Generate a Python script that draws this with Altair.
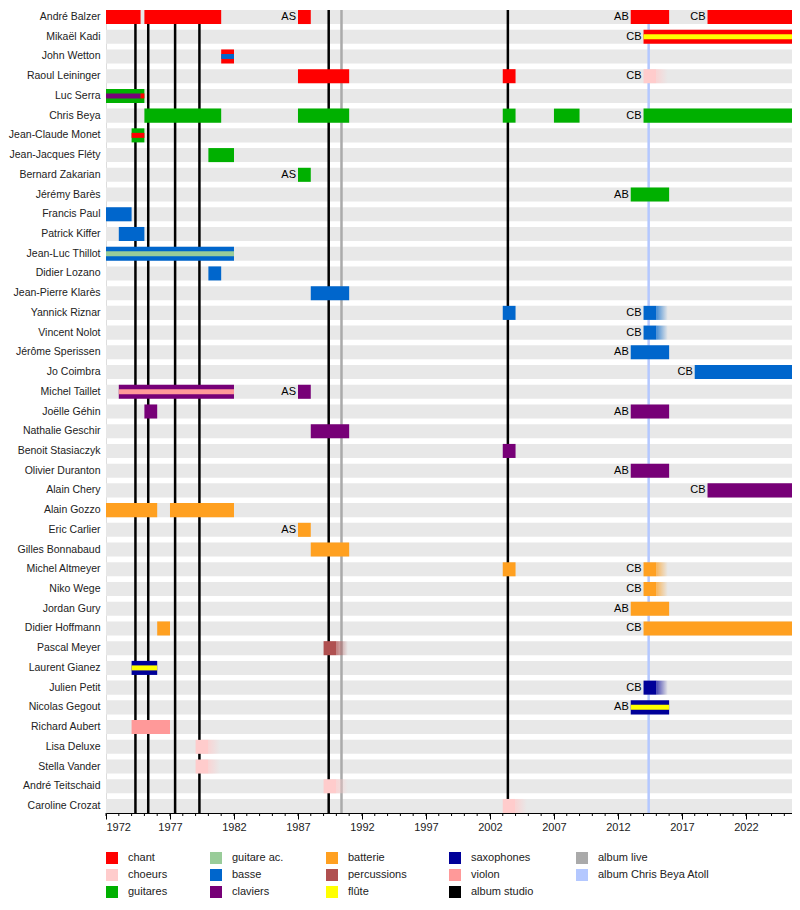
import altair as alt
import pandas as pd

END = 2025.6
H = 803

names = ["André Balzer", "Mikaël Kadi", "John Wetton", "Raoul Leininger", "Luc Serra",
         "Chris Beya", "Jean-Claude Monet", "Jean-Jacques Fléty", "Bernard Zakarian",
         "Jérémy Barès", "Francis Paul", "Patrick Kiffer", "Jean-Luc Thillot",
         "Didier Lozano", "Jean-Pierre Klarès", "Yannick Riznar", "Vincent Nolot",
         "Jérôme Sperissen", "Jo Coimbra", "Michel Taillet", "Joëlle Géhin",
         "Nathalie Geschir", "Benoit Stasiaczyk", "Olivier Duranton", "Alain Chery",
         "Alain Gozzo", "Eric Carlier", "Gilles Bonnabaud", "Michel Altmeyer",
         "Niko Wege", "Jordan Gury", "Didier Hoffmann", "Pascal Meyer",
         "Laurent Gianez", "Julien Petit", "Nicolas Gegout", "Richard Aubert",
         "Lisa Deluxe", "Stella Vander", "André Teitschaid", "Caroline Crozat"]

# main bars
seg_name = ["André Balzer", "André Balzer", "André Balzer", "André Balzer", "André Balzer",
            "Mikaël Kadi", "John Wetton",
            "Raoul Leininger", "Raoul Leininger", "Raoul Leininger",
            "Luc Serra",
            "Chris Beya", "Chris Beya", "Chris Beya", "Chris Beya", "Chris Beya",
            "Jean-Claude Monet", "Jean-Jacques Fléty", "Bernard Zakarian", "Jérémy Barès",
            "Francis Paul", "Patrick Kiffer", "Jean-Luc Thillot", "Didier Lozano",
            "Jean-Pierre Klarès", "Yannick Riznar", "Yannick Riznar", "Vincent Nolot",
            "Jérôme Sperissen", "Jo Coimbra",
            "Michel Taillet", "Michel Taillet", "Joëlle Géhin", "Joëlle Géhin",
            "Nathalie Geschir", "Benoit Stasiaczyk", "Olivier Duranton", "Alain Chery",
            "Alain Gozzo", "Alain Gozzo", "Eric Carlier", "Gilles Bonnabaud",
            "Michel Altmeyer", "Michel Altmeyer", "Niko Wege", "Jordan Gury",
            "Didier Hoffmann", "Didier Hoffmann", "Pascal Meyer",
            "Laurent Gianez", "Julien Petit", "Nicolas Gegout", "Richard Aubert",
            "Lisa Deluxe", "Stella Vander", "André Teitschaid", "Caroline Crozat"]
seg_start = [1972, 1975, 1987, 2013, 2019,
             2014, 1981,
             1987, 2003, 2014,
             1972,
             1975, 1987, 2003, 2007, 2014,
             1974, 1980, 1987, 2013,
             1972, 1973, 1972, 1980,
             1988, 2003, 2014, 2014,
             2013, 2018,
             1973, 1987, 1975, 2013,
             1988, 2003, 2013, 2019,
             1972, 1977, 1987, 1988,
             2003, 2014, 2014, 2013,
             1976, 2014, 1989,
             1974, 2014, 2013, 1974,
             1979, 1979, 1989, 2003]
seg_end = [1974.7, 1981, 1988, 2016, END,
           END, 1982,
           1991, 2004, 2015,
           1975,
           1981, 1991, 2004, 2009, END,
           1975, 1982, 1988, 2016,
           1974, 1975, 1982, 1981,
           1991, 2004, 2015, 2015,
           2016, END,
           1982, 1988, 1976, 2016,
           1991, 2004, 2016, END,
           1976, 1982, 1988, 1991,
           2004, 2015, 2015, 2016,
           1977, END, 1990,
           1976, 2015, 2016, 1977,
           1980, 1980, 1990, 2004]
seg_instr = ["chant", "chant", "chant", "chant", "chant",
             "chant", "chant",
             "chant", "chant", "choeurs",
             "guitares",
             "guitares", "guitares", "guitares", "guitares", "guitares",
             "guitares", "guitares", "guitares", "guitares",
             "basse", "basse", "basse", "basse",
             "basse", "basse", "basse", "basse",
             "basse", "basse",
             "claviers", "claviers", "claviers", "claviers",
             "claviers", "claviers", "claviers", "claviers",
             "batterie", "batterie", "batterie", "batterie",
             "batterie", "batterie", "batterie", "batterie",
             "batterie", "batterie", "percussions",
             "saxophones", "saxophones", "saxophones", "violon",
             "choeurs", "choeurs", "choeurs", "choeurs"]
seg_label = ["", "", "AS", "AB", "CB",
             "CB", "",
             "", "", "CB",
             "",
             "", "", "", "", "CB",
             "", "", "AS", "AB",
             "", "", "", "",
             "", "", "CB", "CB",
             "AB", "CB",
             "", "AS", "", "AB",
             "", "", "AB", "CB",
             "", "", "AS", "",
             "", "CB", "CB", "AB",
             "", "CB", "",
             "", "CB", "AB", "",
             "", "", "", ""]

# secondary instruments (thin stripes)
str_name = ["Mikaël Kadi", "John Wetton", "Luc Serra", "Luc Serra", "Jean-Claude Monet",
            "Jean-Luc Thillot", "Michel Taillet", "Laurent Gianez", "Nicolas Gegout"]
str_start = [2014, 1981, 1972, 1974.7, 1974, 1972, 1973, 1974, 2013]
str_end = [END, 1982, 1974.7, 1975, 1975, 1982, 1982, 1976, 2016]
str_instr = ["flûte", "basse", "claviers", "chant", "chant",
             "guitare ac.", "violon", "flûte", "flûte"]

# soft fading ends
fade_name = ["Raoul Leininger", "Yannick Riznar", "Vincent Nolot", "Michel Altmeyer",
             "Niko Wege", "Julien Petit", "Pascal Meyer", "Lisa Deluxe", "Stella Vander",
             "André Teitschaid", "Caroline Crozat"]
fade_start = [2015, 2015, 2015, 2015, 2015, 2015, 1990, 1980, 1980, 1990, 2004]
fade_instr = ["choeurs", "basse", "basse", "batterie", "batterie", "saxophones",
              "percussions", "choeurs", "choeurs", "choeurs", "choeurs"]

# albums
album_year = [1974.3, 1975.3, 1977.4, 1979.3, 1989.4, 2003.4, 1990.4, 2014.4]
album_type = ["album studio"] * 6 + ["album live", "album Chris Beya Atoll"]

# axis ticks
major_years = list(range(1972, 2026, 5))
minor_years = list(range(1972, 2026))

color_map = {
    "chant": "#ff0000", "choeurs": "#ffcccc", "guitares": "#00b000",
    "guitare ac.": "#99cc99", "basse": "#0066cc", "claviers": "#770077",
    "batterie": "#ffa020", "percussions": "#b05050", "flûte": "#ffff00",
    "saxophones": "#000099", "violon": "#ff9999", "album studio": "#000000",
    "album live": "#aaaaaa", "album Chris Beya Atoll": "#b4c8ff",
}
legend_order = ["chant", "guitare ac.", "batterie", "saxophones", "album live",
                "choeurs", "basse", "percussions", "violon", "album Chris Beya Atoll",
                "guitares", "claviers", "flûte", "album studio"]

segs = pd.DataFrame({"name": seg_name, "start": seg_start, "end": seg_end,
                     "cat": seg_instr, "label": seg_label})
stripes = pd.DataFrame({"name": str_name, "start": str_start, "end": str_end, "cat": str_instr})
bands = pd.DataFrame({"name": names, "start": [1972] * len(names), "end": [END] * len(names)})
albums = pd.DataFrame({"year": album_year, "cat": album_type})
fades = pd.DataFrame({"name": fade_name, "start": fade_start,
                      "end": [s + 0.9 for s in fade_start], "cat": fade_instr})
minor = pd.DataFrame({"year": minor_years})

FONT = "Liberation Sans"
xscale = alt.Scale(domain=[1972, END], nice=False, zero=False)
yscale = alt.Scale(type="band", domain=names, paddingInner=0.288, paddingOuter=0)
color = alt.Color("cat:N",
                  scale=alt.Scale(domain=legend_order,
                                  range=[color_map[c] for c in legend_order]),
                  legend=alt.Legend(title=None, orient="bottom", columns=5,
                                    symbolType="square", symbolSize=144,
                                    symbolStrokeWidth=0, symbolOpacity=1,
                                    labelFontSize=11, labelFont=FONT, labelColor="#222",
                                    columnPadding=42, rowPadding=5, offset=20,
                                    labelOffset=10))

xaxis = alt.Axis(title=None, values=major_years, format="d", labelOverlap=False,
                 tickSize=6, tickColor="#000", domainColor="#000", labelFontSize=11,
                 labelFont=FONT, labelColor="#222", grid=False, labelPadding=2)
yaxis = alt.Axis(title=None, ticks=False, tickSize=0, domain=False, labelFontSize=10.5,
                 labelFont=FONT, labelColor="#222", labelPadding=6, labelLimit=200)

band_layer = alt.Chart(bands).mark_bar(color="#e8e8e8").encode(
    x=alt.X("start:Q", scale=xscale, axis=xaxis), x2="end:Q",
    y=alt.Y("name:N", scale=yscale, axis=yaxis, sort=names))

minor_layer = alt.Chart(minor).mark_rule(color="#000", strokeWidth=1).encode(
    x=alt.X("year:Q", scale=xscale), y=alt.value(H), y2=alt.value(H + 3))

rule_layer = alt.Chart(albums).mark_rule(strokeWidth=2.5).encode(
    x=alt.X("year:Q", scale=xscale), color=color)

bar_layer = alt.Chart(segs).mark_bar().encode(
    x=alt.X("start:Q", scale=xscale), x2="end:Q",
    y=alt.Y("name:N", scale=yscale, sort=names), color=color)

stripe_layer = alt.Chart(stripes).mark_bar(height=5).encode(
    x=alt.X("start:Q", scale=xscale), x2="end:Q",
    y=alt.Y("name:N", scale=yscale, sort=names), color=color)


def hex_rgba(h, a):
    h = h.lstrip("#")
    r, g, b = int(h[0:2], 16), int(h[2:4], 16), int(h[4:6], 16)
    return f"rgba({r},{g},{b},{a})"


fade_layers = []
for inst in sorted(set(fade_instr)):
    c = color_map[inst]
    grad = alt.Gradient(gradient="linear", x1=0, x2=1, y1=0, y2=0,
                        stops=[alt.GradientStop(color=hex_rgba(c, 0.7), offset=0),
                               alt.GradientStop(color=hex_rgba(c, 0.0), offset=1)])
    fade_layers.append(
        alt.Chart(fades[fades["cat"] == inst]).mark_bar(color=grad).encode(
            x=alt.X("start:Q", scale=xscale), x2="end:Q",
            y=alt.Y("name:N", scale=yscale, sort=names)))

text_layer = alt.Chart(segs).transform_filter("datum.label != ''").mark_text(
    align="right", baseline="middle", dx=-2, fontSize=11, font=FONT,
    color="#000").encode(
    x=alt.X("start:Q", scale=xscale), y=alt.Y("name:N", scale=yscale, sort=names),
    text="label:N")

chart = alt.layer(band_layer, minor_layer, rule_layer, *fade_layers, bar_layer,
                  stripe_layer, text_layer).properties(
    width=686, height=H,
    padding={"top": 0, "left": 0, "right": 0, "bottom": 0},
).configure_view(stroke=None).configure(font=FONT)

chart.save("out.html", embed_options={"renderer": "svg", "actions": False})
